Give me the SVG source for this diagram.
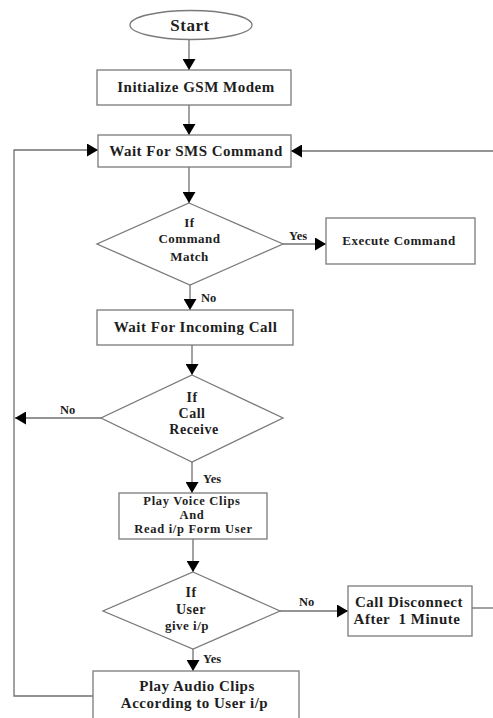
<svg xmlns="http://www.w3.org/2000/svg" width="493" height="718" viewBox="0 0 493 718">
<style>
.box{fill:#fff;stroke:#7a7a7a;stroke-width:1.3}
.conn{fill:none;stroke:#707070;stroke-width:1.3}
text{font-family:"Liberation Serif","Times New Roman",serif;font-weight:bold;fill:#1e1e1e;text-anchor:middle;letter-spacing:0.5px}
.t15{font-size:15px}
.t14{font-size:14px}
.t13{font-size:13px}
.t125{font-size:12.5px;letter-spacing:0.7px}
.lbl{font-size:12.5px;text-anchor:start;letter-spacing:0}
</style>
<defs>
<marker id="ah" viewBox="0 0 11 13" refX="11" refY="6.5" markerWidth="11" markerHeight="13" markerUnits="userSpaceOnUse" orient="auto">
<path d="M0,0 L11,6.5 L0,13 z" fill="#000"/>
</marker>
</defs>
<rect width="493" height="718" fill="#fff"/>
<g id="connectors">
<path class="conn" d="M189,39 V70" marker-end="url(#ah)"/>
<path class="conn" d="M189,105 V135" marker-end="url(#ah)"/>
<path class="conn" d="M189,167 V203" marker-end="url(#ah)"/>
<path class="conn" d="M283,244 H326" marker-end="url(#ah)"/>
<path class="conn" d="M190,285 V310" marker-end="url(#ah)"/>
<path class="conn" d="M192,345 V375" marker-end="url(#ah)"/>
<path class="conn" d="M101,418 H15" marker-end="url(#ah)"/>
<path class="conn" d="M192,462 V493" marker-end="url(#ah)"/>
<path class="conn" d="M193,539 V572" marker-end="url(#ah)"/>
<path class="conn" d="M280,611 H348" marker-end="url(#ah)"/>
<path class="conn" d="M193,649 V671" marker-end="url(#ah)"/>
<path class="conn" d="M472,608 H493"/>
<path class="conn" d="M493,151 H291" marker-end="url(#ah)"/>
<path class="conn" d="M93,696 H14 V150 H98" marker-end="url(#ah)"/>
<text class="lbl" x="289" y="240">Yes</text>
<text class="lbl" x="201" y="301.5">No</text>
<text class="lbl" x="60" y="414">No</text>
<text class="lbl" x="203" y="483">Yes</text>
<text class="lbl" x="299" y="605.5">No</text>
<text class="lbl" x="203" y="663">Yes</text>
</g>
<g id="start">
<ellipse class="box" cx="191" cy="25" rx="61" ry="14.5"/>
<text x="190" y="31" style="font-size:17px">Start</text>
</g>
<g id="init">
<rect class="box" x="97" y="70" width="194" height="35"/>
<text class="t15" x="196" y="92">Initialize GSM Modem</text>
</g>
<g id="waitSms">
<rect class="box" x="98" y="135" width="193" height="32"/>
<text class="t15" x="196" y="156">Wait For SMS Command</text>
</g>
<g id="cmdMatch">
<polygon class="box" points="189,203 283,244 190,285 97,244"/>
<text class="t13" x="189.5" y="226.5">If</text>
<text class="t13" x="189.5" y="242.5">Command</text>
<text class="t13" x="189.5" y="261">Match</text>
</g>
<g id="execute">
<rect class="box" x="326" y="218" width="149" height="46"/>
<text class="t13" x="399" y="245">Execute Command</text>
</g>
<g id="waitCall">
<rect class="box" x="97" y="310" width="196" height="35"/>
<text class="t15" x="195.5" y="332">Wait For Incoming Call</text>
</g>
<g id="callReceive">
<polygon class="box" points="192,375 283,418 192,462 101,418"/>
<text class="t14" x="192" y="401.5">If</text>
<text class="t14" x="192" y="417.5">Call</text>
<text class="t14" x="194" y="434">Receive</text>
</g>
<g id="playVoice">
<rect class="box" x="119" y="493" width="148" height="46"/>
<text class="t125" x="192" y="504.5">Play Voice Clips</text>
<text class="t125" x="192" y="518.5">And</text>
<text class="t125" x="193.5" y="532.5">Read i/p Form User</text>
</g>
<g id="userInput">
<polygon class="box" points="193,572 280,611 193,649 103,611"/>
<text class="t14" x="191" y="596.5">If</text>
<text class="t14" x="191" y="614">User</text>
<text class="t13" x="187" y="630">give i/p</text>
</g>
<g id="disconnect">
<rect class="box" x="348" y="586" width="124" height="50"/>
<text class="t15" x="409" y="607">Call Disconnect</text>
<text class="t15" x="407" y="624" xml:space="preserve">After  1 Minute</text>
</g>
<g id="playAudio">
<rect class="box" x="93" y="671" width="206" height="60"/>
<text class="t15" x="197" y="691">Play Audio Clips</text>
<text class="t15" x="194.5" y="708">According to User i/p</text>
</g>
</svg>
